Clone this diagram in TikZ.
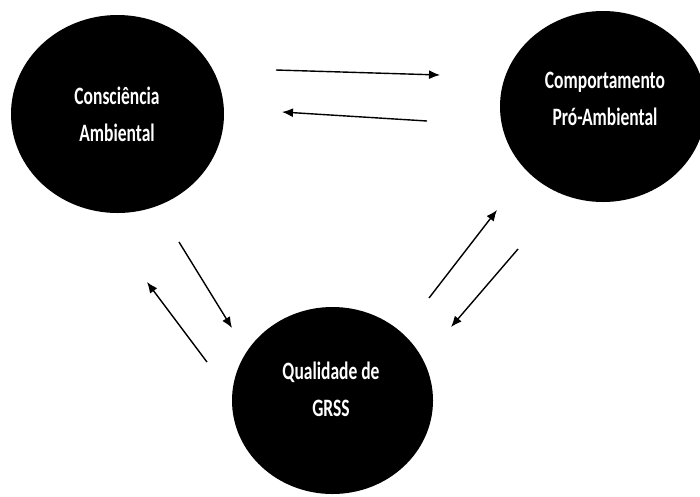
\documentclass[tikz,border=0pt]{standalone}
\usepackage{fontspec}
\newfontfamily\lblfont{Carlito}[FakeStretch=0.7]
\usetikzlibrary{arrows.meta,shapes.geometric}
\begin{document}
\begin{tikzpicture}[x=1pt,y=-1pt,
  blob/.style={ellipse, fill=black, draw=none, inner sep=0pt},
  lbl/.style={text=white, font=\fontsize{25}{36.5}\selectfont\lblfont\bfseries, align=center, inner sep=0pt},
  link/.style={draw=black, line width=1.4pt, -{Latex[length=11pt,width=9pt]}}]
\useasboundingbox (0,0) rectangle (700,496);
\clip (0,0) rectangle (700,496);
\fill[white] (0,0) rectangle (700,496);
% circles
\node[blob, minimum width=213pt, minimum height=198pt] (ca) at (117.5,114) {};
\node[blob, minimum width=206pt, minimum height=191pt] (cp) at (603,106.5) {};
\node[blob, minimum width=201pt, minimum height=187pt] (qg) at (332.5,400.5) {};
% labels
\node[lbl] (tca) at (117,114.5) {Consciência\\Ambiental};
\node[lbl] (tcp) at (605,99) {Comportamento\\Pró-Ambiental};
\node[lbl] (tqg) at (331,389.5) {Qualidade de\\GRSS};
% arrow end points
\coordinate (a1s) at (276,70);  \coordinate (a1e) at (440,75);
\coordinate (a2s) at (427,121); \coordinate (a2e) at (282,112);
\coordinate (a3s) at (179,242); \coordinate (a3e) at (232,328);
\coordinate (a4s) at (207,362); \coordinate (a4e) at (147,282);
\coordinate (a5s) at (429,298); \coordinate (a5e) at (497,210);
\coordinate (a6s) at (518,249); \coordinate (a6e) at (451,327);
\draw[link] (a1s) -- (a1e);
\draw[link] (a2s) -- (a2e);
\draw[link] (a3s) -- (a3e);
\draw[link] (a4s) -- (a4e);
\draw[link] (a5s) -- (a5e);
\draw[link] (a6s) -- (a6e);
\end{tikzpicture}
\end{document}
